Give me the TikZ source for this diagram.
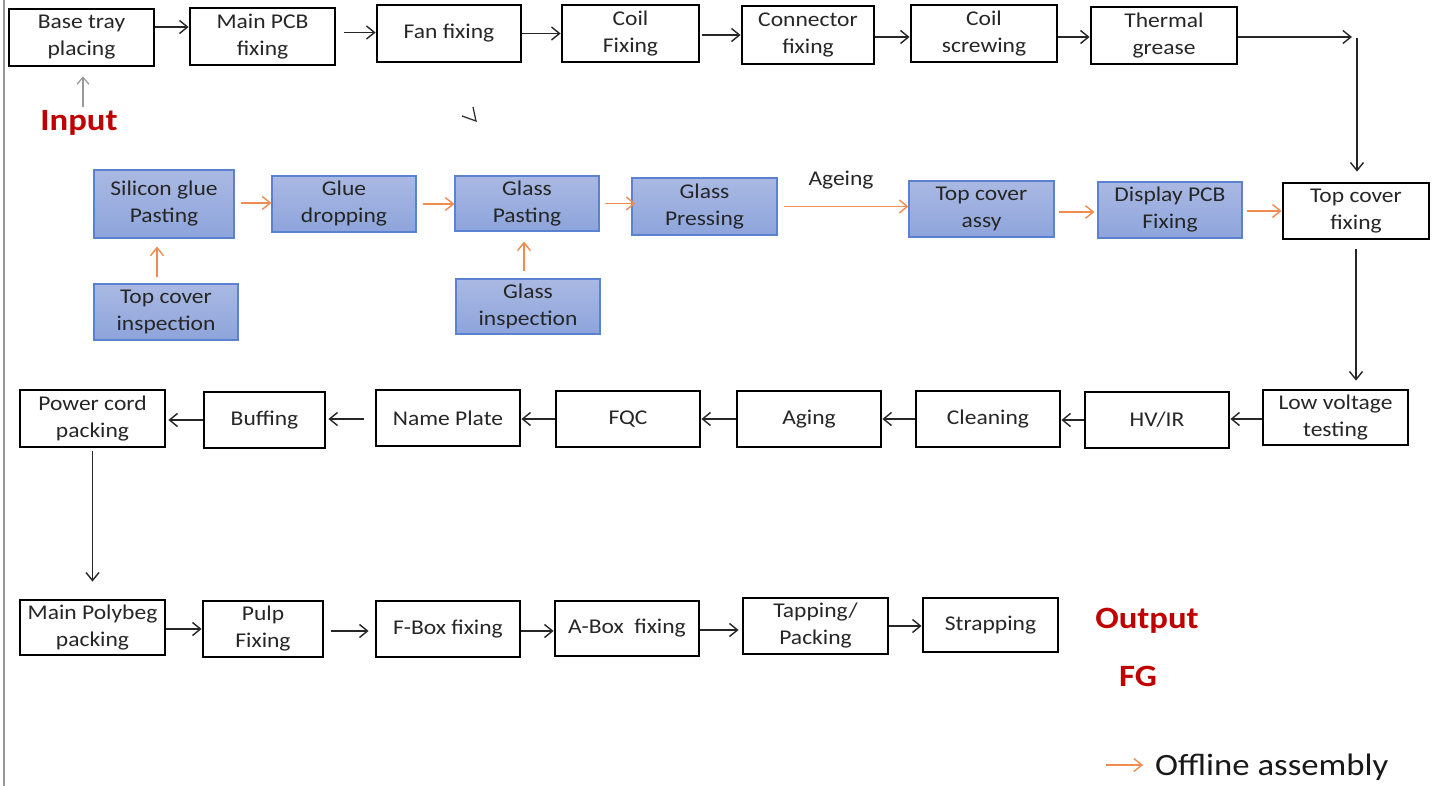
\documentclass[tikz,border=0pt]{standalone}
\usepackage{fontspec}
\setmainfont{Carlito}[FakeStretch=1.12]
\usetikzlibrary{arrows.meta}
\definecolor{darkred}{HTML}{C00000}
\definecolor{offorange}{HTML}{F08C4F}
\definecolor{bluetop}{HTML}{AAB9E3}
\definecolor{bluebot}{HTML}{8DA4DB}
\definecolor{blueedge}{HTML}{5B82D0}
\definecolor{arrowgray}{HTML}{999999}
\tikzset{
  proc/.style={draw=black, line width=2.8pt, fill=white, inner sep=0pt, align=center,
    font=\fontsize{21}{27}\selectfont, text=black!85},
  offl/.style={draw=blueedge, line width=1.2pt, top color=bluetop, bottom color=bluebot,
    inner sep=0pt, align=center, font=\fontsize{21}{27}\selectfont, text=black!85},
  flow/.style={draw=black!85, line width=1.4pt, -{Straight Barb[length=8pt,width=13pt,line width=1.4pt]}},
  oflow/.style={draw=offorange, line width=1.4pt, -{Straight Barb[length=8pt,width=13pt,line width=1.4pt]}},
  redlabel/.style={text=darkred, font=\fontsize{31}{36}\selectfont\bfseries, inner sep=0pt},
}
\begin{document}
\begin{tikzpicture}[x=1pt,y=-1pt]
\useasboundingbox (0,0) rectangle (1436,786);
\fill[white] (0,0) rectangle (1436,786);
\draw[arrowgray, line width=2pt] (4,0) -- (4,786);

% Row 1
\node[proc, minimum width=145pt, minimum height=57pt] (base) at (81.5,37.5) {Base tray\\placing};
\node[proc, minimum width=145pt, minimum height=57pt] (mainpcb) at (262.5,36.5) {Main PCB\\fixing};
\node[proc, minimum width=144pt, minimum height=57pt] (fan) at (449,33.5) {Fan fixing};
\node[proc, minimum width=137pt, minimum height=57pt] (coil) at (630.5,33.5) {Coil\\Fixing};
\node[proc, minimum width=132pt, minimum height=58pt] (conn) at (808,35) {Connector\\fixing};
\node[proc, minimum width=146pt, minimum height=57pt] (coilscr) at (984,33.5) {Coil\\screwing};
\node[proc, minimum width=146pt, minimum height=57pt] (thermal) at (1164,35.5) {Thermal\\grease};

\node[redlabel] (input) at (79,123) {Input};

% Row 2
\node[offl, minimum width=140pt, minimum height=68pt] (silicon) at (164,204) {Silicon glue\\Pasting};
\node[offl, minimum width=144pt, minimum height=56pt] (gluedrop) at (344,204) {Glue\\dropping};
\node[offl, minimum width=144pt, minimum height=55pt] (glasspaste) at (527,203.5) {Glass\\Pasting};
\node[offl, minimum width=145pt, minimum height=57pt] (glasspress) at (704.5,206.5) {Glass\\Pressing};
\node[offl, minimum width=145pt, minimum height=56pt] (topassy) at (981.5,209) {Top cover\\assy};
\node[offl, minimum width=144pt, minimum height=56pt] (dispcb) at (1170,210) {Display PCB\\Fixing};
\node[proc, minimum width=146pt, minimum height=56pt] (topfix) at (1356,211) {Top cover\\fixing};
\node[offl, minimum width=144pt, minimum height=56pt] (topinsp) at (166,312) {Top cover\\inspection};
\node[offl, minimum width=144pt, minimum height=55pt] (glassinsp) at (528,306.5) {Glass\\inspection};
\node[font=\fontsize{21}{27}\selectfont, text=black!85, inner sep=0pt] (ageing) at (841,180) {Ageing};

% Row 3
\node[proc, minimum width=145pt, minimum height=57pt] (power) at (92.5,418.5) {Power cord\\packing};
\node[proc, minimum width=121pt, minimum height=56pt] (buff) at (264.5,420) {Buffing};
\node[proc, minimum width=144pt, minimum height=56pt] (name) at (448,418) {Name Plate};
\node[proc, minimum width=144pt, minimum height=56pt] (fqc) at (628,419) {FQC};
\node[proc, minimum width=144pt, minimum height=56pt] (aging) at (809,419) {Aging};
\node[proc, minimum width=144pt, minimum height=56pt] (clean) at (988,419) {Cleaning};
\node[proc, minimum width=144pt, minimum height=56pt] (hvir) at (1157,420) {HV/IR};
\node[proc, minimum width=145pt, minimum height=55pt] (lowv) at (1335.5,417.5) {Low voltage\\testing};

% Row 4
\node[proc, minimum width=145pt, minimum height=55pt] (polybeg) at (92.5,627.5) {Main Polybeg\\packing};
\node[proc, minimum width=120pt, minimum height=56pt] (pulp) at (263,629) {Pulp\\Fixing};
\node[proc, minimum width=144pt, minimum height=56pt] (fbox) at (448,629) {F-Box fixing};
\node[proc, minimum width=144pt, minimum height=55pt] (abox) at (627,628.5) {A-Box\ \ fixing};
\node[proc, minimum width=145pt, minimum height=56pt] (tapping) at (815.5,626) {Tapping/\\Packing};
\node[proc, minimum width=135pt, minimum height=54pt] (strap) at (990.5,625) {Strapping};

\node[redlabel] (output) at (1147,621) {Output};
\node[redlabel] (fg) at (1138,676) {FG};

% legend
\coordinate (legA) at (1106,765);
\coordinate (legB) at (1143,765);
\node[font=\fontsize{31}{36}\selectfont, text=black!90, inner sep=0pt, anchor=west] (legtext) at (1155,767) {Offline assembly};
\draw[oflow] (legA) -- (legB);

% stray mark
\draw[black!80, line width=1.3pt] (462,116) -- (476,121) -- (473,107);

% Row 1 connectors
\draw[arrowgray, line width=1.2pt, -{Straight Barb[length=7pt,width=12pt,line width=1.2pt]}, shorten <=3pt, shorten >=9pt] (input.north -| 83,0) -- (base.south -| 83,0);
\draw[flow] ([yshift=10.5pt]base.east) -- ([yshift=10.5pt]base.east -| mainpcb.west);
\draw[flow, shorten <=8pt] ([yshift=4pt]mainpcb.east) -- ([yshift=4pt]mainpcb.east -| fan.west);
\draw[flow] (fan.east) -- (fan.east -| coil.west);
\draw[flow, shorten <=2pt] ([yshift=-1.5pt]coil.east) -- ([yshift=-1.5pt]coil.east -| conn.west);
\draw[flow] ([yshift=-2pt]conn.east) -- ([yshift=-2pt]conn.east -| coilscr.west);
\draw[flow] ([yshift=-3.5pt]coilscr.east) -- ([yshift=-3.5pt]coilscr.east -| thermal.west);
\coordinate (turnA) at (1352,37);
\coordinate (turnB) at (1357,38);
\draw[flow] ([yshift=-1.5pt]thermal.east) -- (turnA);
\draw[flow, shorten >=10pt] (turnB) -- (turnB |- topfix.north);

% Row 2 connectors
\draw[oflow, shorten <=6pt] ([yshift=1pt]silicon.east) -- ([yshift=1pt]silicon.east -| gluedrop.west);
\draw[oflow, shorten <=6pt] (gluedrop.east) -- (gluedrop.east -| glasspaste.west);
\draw[oflow, shorten <=5pt, shorten >=-4pt] (glasspaste.east) -- (glasspaste.east -| glasspress.west);
\draw[oflow, shorten <=6pt] (glasspress.east) -- (glasspress.east -| topassy.west);
\draw[oflow, shorten <=4pt, shorten >=3pt] ([yshift=-3pt]topassy.east) -- ([yshift=-3pt]topassy.east -| dispcb.west);
\draw[oflow, shorten <=4pt] ([yshift=-1pt]dispcb.east) -- ([yshift=-1pt]dispcb.east -| topfix.west);
\draw[oflow, shorten <=6pt, shorten >=8pt] ([xshift=-9pt]topinsp.north) -- ([xshift=-9pt]topinsp.north |- silicon.south);
\draw[oflow, shorten <=7pt, shorten >=10pt] ([xshift=-4pt]glassinsp.north) -- ([xshift=-4pt]glassinsp.north |- glasspaste.south);

% Row 3 connectors
\draw[flow, shorten <=9pt, shorten >=8pt] (topfix.south) -- (topfix.south |- lowv.north);
\draw[flow] ([yshift=-1.5pt]lowv.west) -- ([yshift=-1.5pt]lowv.west -| hvir.east);
\draw[flow] (hvir.west) -- (hvir.west -| clean.east);
\draw[flow] (clean.west) -- (clean.west -| aging.east);
\draw[flow] (aging.west) -- (aging.west -| fqc.east);
\draw[flow] (fqc.west) -- (fqc.west -| name.east);
\draw[flow, shorten <=11pt, shorten >=2pt] ([yshift=-1pt]name.west) -- ([yshift=-1pt]name.west -| buff.east);
\draw[flow, shorten >=2pt] (buff.west) -- (buff.west -| power.east);
\draw[flow, shorten <=3pt, shorten >=17pt] (power.south) -- (polybeg.north);

% Row 4 connectors
\draw[flow] ([yshift=-1.5pt]polybeg.east) -- ([yshift=-1.5pt]polybeg.east -| pulp.west);
\draw[flow, shorten <=7pt, shorten >=6pt] ([yshift=-2pt]pulp.east) -- ([yshift=-2pt]pulp.east -| fbox.west);
\draw[flow] ([yshift=-2pt]fbox.east) -- ([yshift=-2pt]fbox.east -| abox.west);
\draw[flow, shorten >=3pt] ([yshift=-1.5pt]abox.east) -- ([yshift=-1.5pt]abox.east -| tapping.west);
\draw[flow] (tapping.east) -- (tapping.east -| strap.west);
\end{tikzpicture}
\end{document}
